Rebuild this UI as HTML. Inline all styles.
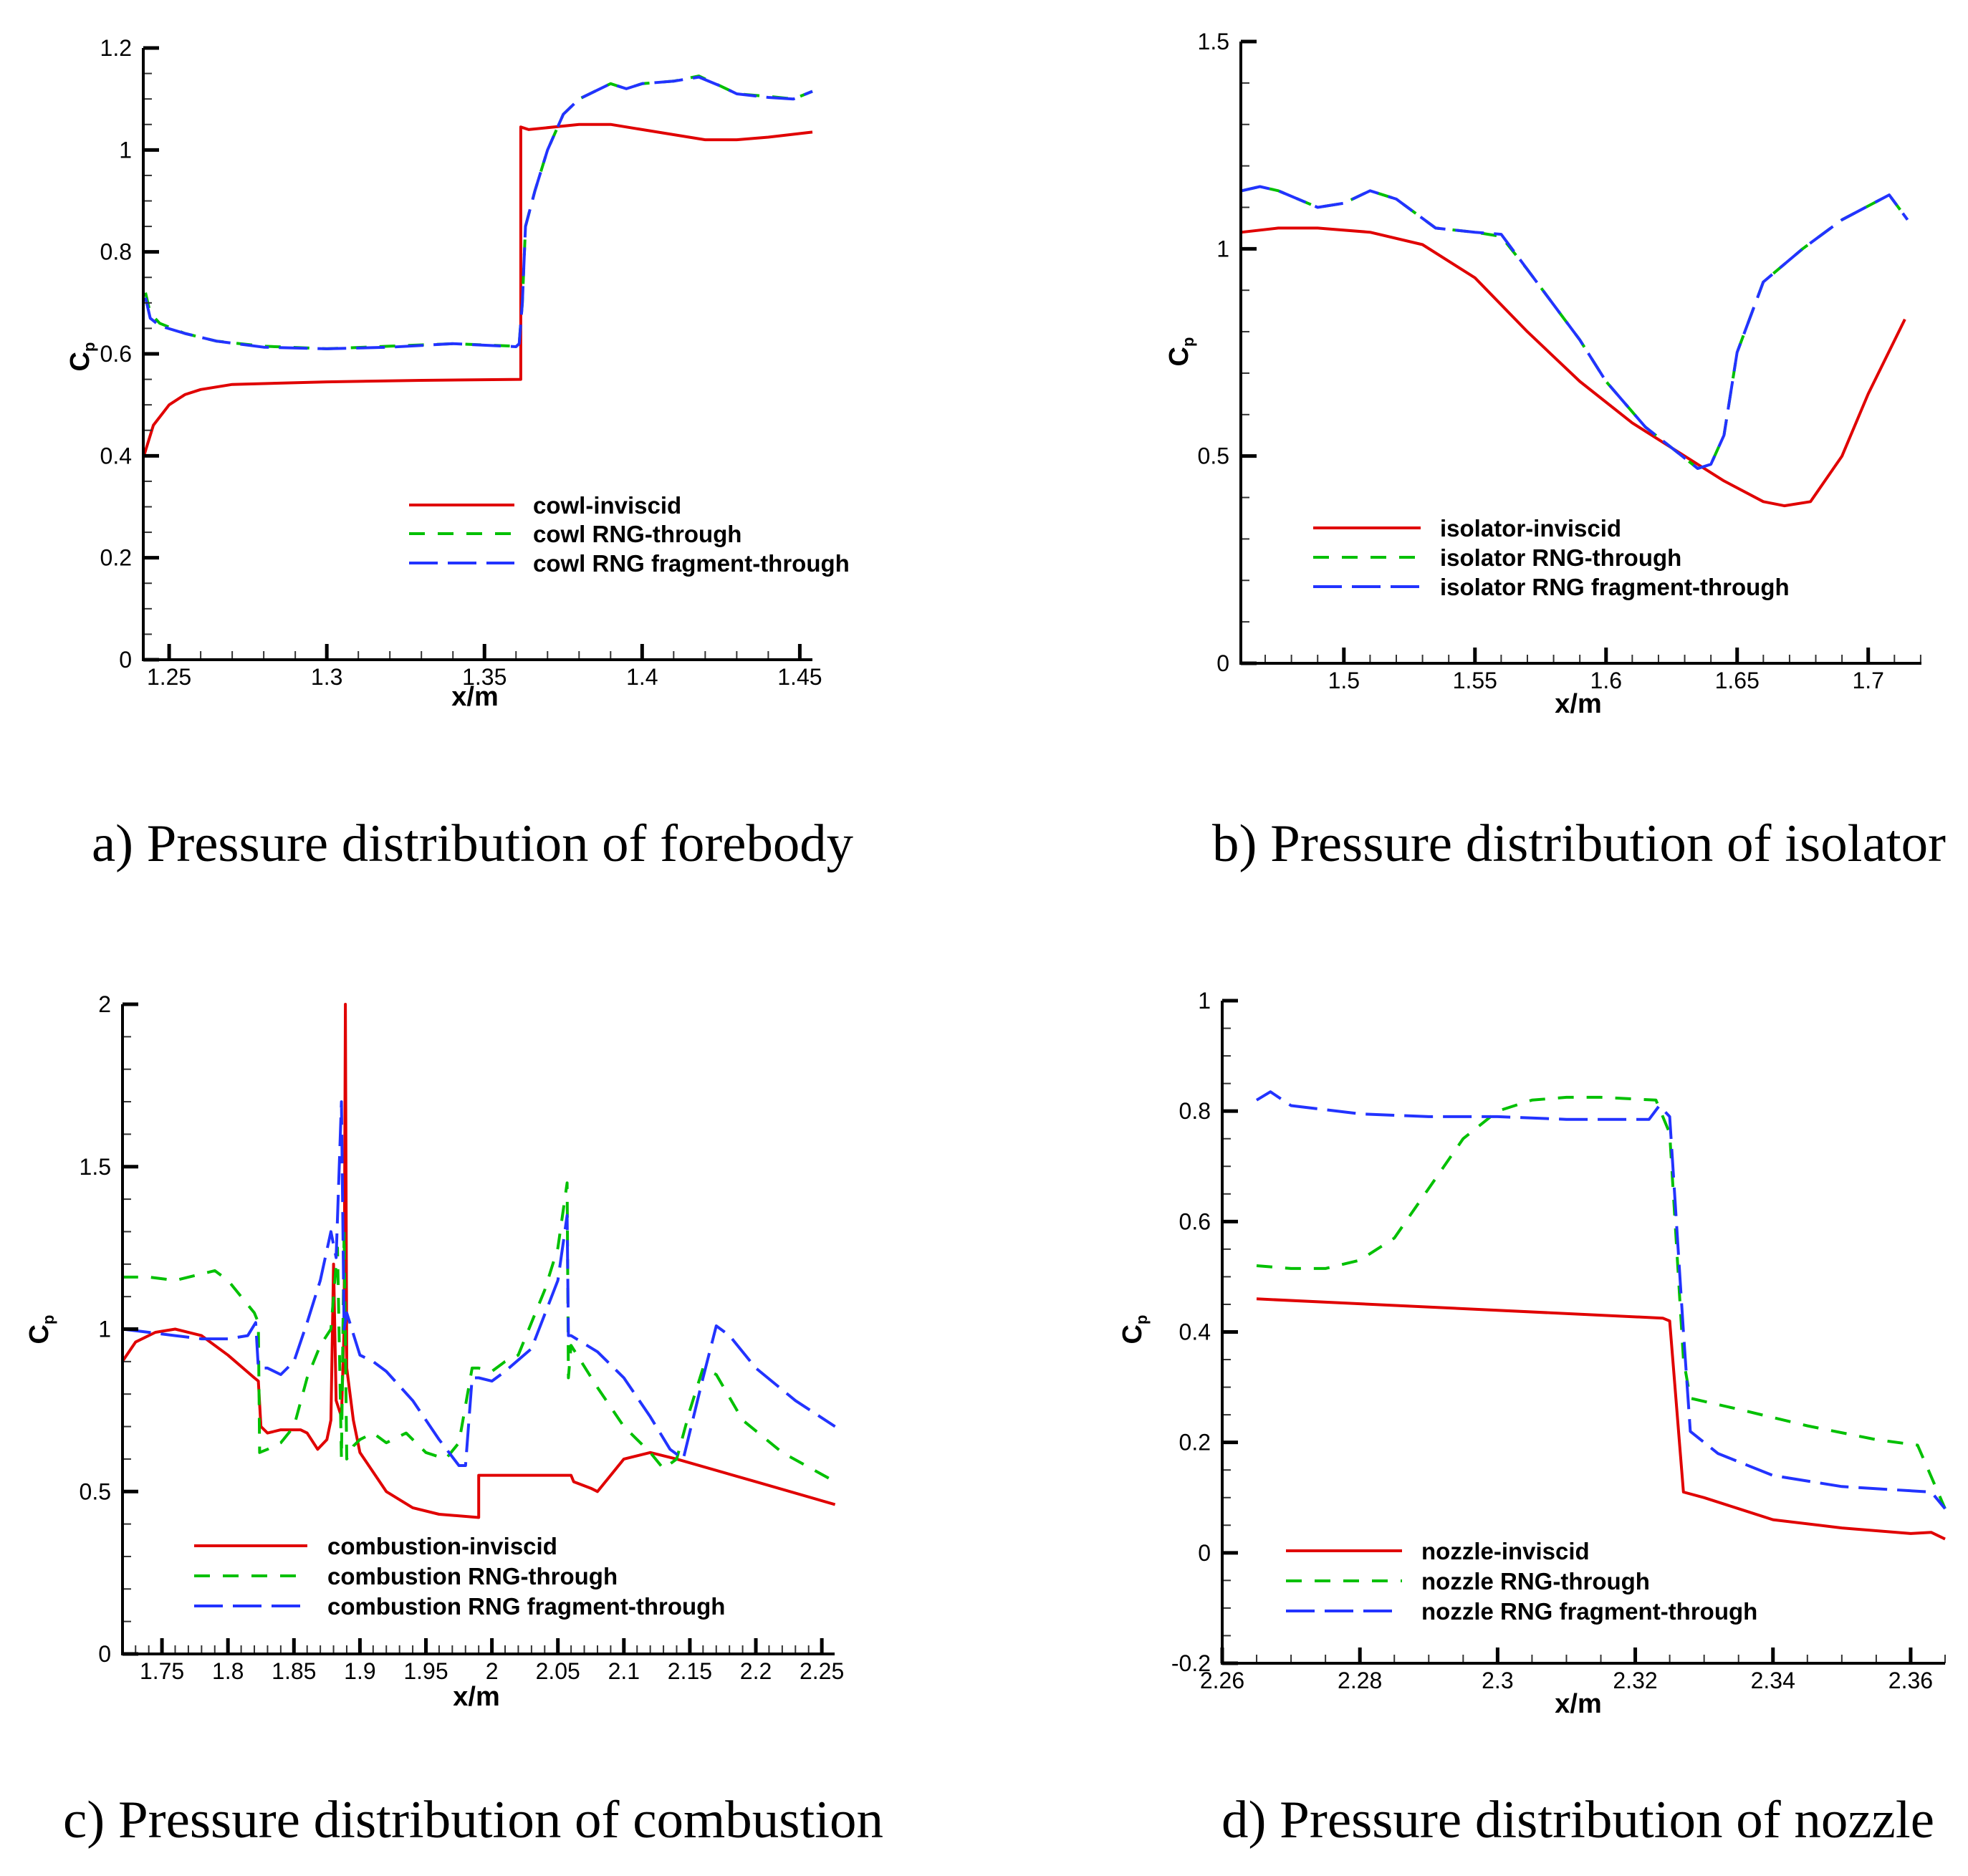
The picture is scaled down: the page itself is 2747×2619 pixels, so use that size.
<!DOCTYPE html>
<html><head><meta charset="utf-8"><style>
html,body{margin:0;padding:0;background:#fff;}
svg{display:block;}
</style></head><body>
<svg id="fig" xmlns="http://www.w3.org/2000/svg" width="2747" height="2619" viewBox="0 0 2747 2619" font-family="Liberation Sans, sans-serif">
<rect width="2747" height="2619" fill="#fff"/>
<text x="128" y="1202" font-family="Liberation Serif, serif" font-size="74" textLength="1063" lengthAdjust="spacingAndGlyphs">a) Pressure distribution of forebody</text>
<text x="1692" y="1202" font-family="Liberation Serif, serif" font-size="74" textLength="1024" lengthAdjust="spacingAndGlyphs">b) Pressure distribution of isolator</text>
<text x="88" y="2565" font-family="Liberation Serif, serif" font-size="74" textLength="1145" lengthAdjust="spacingAndGlyphs">c) Pressure distribution of combustion</text>
<text x="1705" y="2565" font-family="Liberation Serif, serif" font-size="74" textLength="995" lengthAdjust="spacingAndGlyphs">d) Pressure distribution of nozzle</text>
</svg>
<script>
// ---- Panel a (forebody / cowl) data ----
const aInvX=[1.242,1.245,1.25,1.255,1.26,1.27,1.3,1.33,1.3615,1.3615,1.364,1.38,1.39,1.40,1.41,1.42,1.43,1.44,1.454];
const aInvY=[0.40,0.46,0.50,0.52,0.53,0.54,0.545,0.548,0.55,1.045,1.04,1.05,1.05,1.04,1.03,1.02,1.02,1.025,1.035];
const aRngX=[1.2425,1.244,1.247,1.255,1.265,1.28,1.3,1.32,1.34,1.36,1.361,1.362,1.363,1.366,1.37,1.375,1.38,1.39,1.395,1.40,1.41,1.418,1.425,1.43,1.44,1.448,1.454];
const aRngY=[0.72,0.68,0.66,0.64,0.625,0.615,0.61,0.615,0.62,0.615,0.62,0.70,0.85,0.92,1.00,1.07,1.10,1.13,1.12,1.13,1.135,1.145,1.125,1.11,1.105,1.10,1.115];
const aFrgX=[1.2425,1.244,1.247,1.255,1.265,1.28,1.3,1.32,1.34,1.36,1.361,1.362,1.363,1.366,1.37,1.375,1.38,1.39,1.395,1.40,1.41,1.418,1.425,1.43,1.44,1.448,1.454];
const aFrgY=[0.71,0.67,0.655,0.64,0.625,0.613,0.61,0.613,0.62,0.614,0.62,0.70,0.85,0.92,1.00,1.07,1.10,1.13,1.12,1.13,1.135,1.143,1.125,1.11,1.103,1.10,1.115];
// ---- Panel b (isolator) data ----
const bInvX=[1.461,1.475,1.49,1.51,1.53,1.55,1.57,1.59,1.61,1.63,1.645,1.66,1.668,1.678,1.69,1.70,1.714];
const bInvY=[1.04,1.05,1.05,1.04,1.01,0.93,0.80,0.68,0.58,0.50,0.44,0.39,0.38,0.39,0.50,0.65,0.83];
const bRngX=[1.461,1.468,1.475,1.49,1.50,1.51,1.52,1.535,1.55,1.56,1.57,1.59,1.60,1.615,1.625,1.635,1.64,1.645,1.65,1.66,1.675,1.69,1.708,1.715];
const bRngY=[1.14,1.15,1.14,1.10,1.11,1.14,1.12,1.05,1.04,1.03,0.95,0.78,0.68,0.57,0.52,0.47,0.48,0.55,0.75,0.92,1.00,1.07,1.13,1.07];
const bFrgX=bRngX.slice();
const bFrgY=[1.14,1.15,1.14,1.10,1.11,1.14,1.12,1.05,1.04,1.035,0.95,0.78,0.68,0.57,0.52,0.47,0.48,0.55,0.75,0.92,1.00,1.07,1.13,1.07];
// ---- Panel c (combustion) data ----
const cInvX=[1.72,1.73,1.745,1.76,1.78,1.80,1.82,1.823,1.825,1.83,1.84,1.855,1.86,1.868,1.875,1.878,1.88,1.882,1.886,1.888,1.889,1.89,1.895,1.90,1.92,1.94,1.96,1.99,1.99,2.05,2.06,2.062,2.075,2.08,2.09,2.10,2.12,2.14,2.20,2.26];
const cInvY=[0.90,0.96,0.99,1.00,0.98,0.92,0.85,0.84,0.70,0.68,0.69,0.69,0.68,0.63,0.66,0.72,1.20,0.78,0.73,1.00,2.00,0.88,0.72,0.62,0.50,0.45,0.43,0.42,0.55,0.55,0.55,0.53,0.51,0.50,0.55,0.60,0.62,0.60,0.53,0.46];
const cRngX=[1.72,1.74,1.76,1.79,1.80,1.82,1.823,1.824,1.83,1.84,1.85,1.86,1.87,1.878,1.883,1.886,1.888,1.89,1.895,1.90,1.91,1.92,1.935,1.95,1.965,1.975,1.985,1.99,2.00,2.01,2.02,2.04,2.05,2.057,2.058,2.06,2.08,2.10,2.12,2.13,2.14,2.15,2.16,2.17,2.19,2.22,2.26];
const cRngY=[1.16,1.16,1.15,1.18,1.15,1.05,1.02,0.62,0.63,0.65,0.70,0.85,0.95,1.00,1.25,0.60,1.30,0.60,0.64,0.66,0.68,0.65,0.68,0.62,0.60,0.65,0.88,0.88,0.87,0.90,0.92,1.12,1.25,1.45,0.85,0.95,0.82,0.70,0.62,0.57,0.60,0.75,0.88,0.86,0.72,0.62,0.53];
const cFrgX=[1.72,1.74,1.76,1.78,1.80,1.815,1.821,1.823,1.83,1.84,1.85,1.86,1.87,1.878,1.882,1.886,1.888,1.89,1.90,1.91,1.92,1.94,1.96,1.975,1.98,1.985,1.99,2.00,2.01,2.03,2.05,2.057,2.058,2.06,2.08,2.10,2.12,2.135,2.145,2.16,2.17,2.18,2.20,2.23,2.26];
const cFrgY=[1.00,0.99,0.98,0.97,0.97,0.98,1.02,0.88,0.88,0.86,0.90,1.02,1.15,1.30,1.22,1.70,1.00,1.05,0.92,0.90,0.87,0.78,0.66,0.58,0.58,0.85,0.85,0.84,0.87,0.94,1.15,1.35,0.98,0.98,0.93,0.85,0.73,0.63,0.60,0.85,1.01,0.98,0.88,0.78,0.70];
// ---- Panel d (nozzle) data ----
const dInvX=[2.265,2.324,2.325,2.327,2.33,2.335,2.34,2.35,2.36,2.363,2.365];
const dInvY=[0.46,0.425,0.42,0.11,0.10,0.08,0.06,0.045,0.035,0.037,0.025];
const dRngX=[2.265,2.27,2.275,2.28,2.285,2.29,2.295,2.30,2.305,2.31,2.315,2.323,2.325,2.327,2.328,2.335,2.345,2.355,2.361,2.365];
const dRngY=[0.52,0.515,0.515,0.53,0.57,0.66,0.75,0.80,0.82,0.825,0.825,0.82,0.76,0.35,0.28,0.26,0.23,0.205,0.195,0.08];
const dFrgX=[2.265,2.267,2.27,2.28,2.29,2.30,2.31,2.322,2.3235,2.325,2.327,2.328,2.332,2.34,2.35,2.363,2.365];
const dFrgY=[0.82,0.835,0.81,0.795,0.79,0.79,0.785,0.785,0.81,0.79,0.40,0.22,0.18,0.14,0.12,0.11,0.08];

const NS='http://www.w3.org/2000/svg';
const svg=document.getElementById('fig');
function mk(tag,attrs,parent){const e=document.createElementNS(NS,tag);for(const k in attrs)e.setAttribute(k,attrs[k]);(parent||svg).appendChild(e);return e;}

const panels=[
 {id:'a',px0:200,px1:1134,py0:921,py1:67,x0:1.2418,x1:1.454,y0:0,y1:1.2,
  xt:[1.25,1.3,1.35,1.4,1.45],xl:['1.25','1.3','1.35','1.4','1.45'],xm:0.01,
  yt:[0,0.2,0.4,0.6,0.8,1,1.2],yl:['0','0.2','0.4','0.6','0.8','1','1.2'],ym:0.05,
  series:[[aInvX,aInvY],[aRngX,aRngY],[aFrgX,aFrgY]],names:['cowl-inviscid','cowl RNG-through','cowl RNG fragment-through'],
  lx0:571,lx1:718,ltx:744,ly:[705,745,786],xlab:[663,985],cp:[112,498]},
 {id:'b',px0:1732,px1:2682,py0:926,py1:58,x0:1.4607,x1:1.7203,y0:0,y1:1.5,
  xt:[1.5,1.55,1.6,1.65,1.7],xl:['1.5','1.55','1.6','1.65','1.7'],xm:0.01,
  yt:[0,0.5,1,1.5],yl:['0','0.5','1','1.5'],ym:0.1,
  series:[[bInvX,bInvY],[bRngX,bRngY],[bFrgX,bFrgY]],names:['isolator-inviscid','isolator RNG-through','isolator RNG fragment-through'],
  lx0:1833,lx1:1983,ltx:2010,ly:[737,778,819],xlab:[2203,995],cp:[1646,491]},
 {id:'c',px0:171,px1:1165,py0:2309,py1:1402,x0:1.7201,x1:2.2597,y0:0,y1:2,
  xt:[1.75,1.8,1.85,1.9,1.95,2,2.05,2.1,2.15,2.2,2.25],xl:['1.75','1.8','1.85','1.9','1.95','2','2.05','2.1','2.15','2.2','2.25'],xm:0.01,
  yt:[0,0.5,1,1.5,2],yl:['0','0.5','1','1.5','2'],ym:0.1,
  series:[[cInvX,cInvY],[cRngX,cRngY],[cFrgX,cFrgY]],names:['combustion-inviscid','combustion RNG-through','combustion RNG fragment-through'],
  lx0:271,lx1:429,ltx:457,ly:[2158,2200,2242],xlab:[665,2381],cp:[55,1856]},
 {id:'d',px0:1706,px1:2715,py0:2322,py1:1397,x0:2.26,x1:2.365,y0:-0.2,y1:1,
  xt:[2.26,2.28,2.3,2.32,2.34,2.36],xl:['2.26','2.28','2.3','2.32','2.34','2.36'],xm:0.005,
  yt:[-0.2,0,0.2,0.4,0.6,0.8,1],yl:['-0.2','0','0.2','0.4','0.6','0.8','1'],ym:0.05,
  series:[[dInvX,dInvY],[dRngX,dRngY],[dFrgX,dFrgY]],names:['nozzle-inviscid','nozzle RNG-through','nozzle RNG fragment-through'],
  lx0:1795,lx1:1957,ltx:1984,ly:[2165,2207,2249],xlab:[2203,2391],cp:[1581,1856]}
];
const colors=['#e00000','#00c000','#2233ff'];
const dashes=['none','22 18','40 14'];

panels.forEach(p=>{
 const g=mk('g',{});
 
 
 const sx=v=>p.px0+(v-p.x0)/(p.x1-p.x0)*(p.px1-p.px0);
 const sy=v=>p.py0+(v-p.y0)/(p.y1-p.y0)*(p.py1-p.py0);
 p.series.forEach((s,i)=>{
  const pts=s[0].map((x,k)=>sx(x).toFixed(1)+','+sy(s[1][k]).toFixed(1)).join(' ');
  const pl=mk('polyline',{points:pts,fill:'none',stroke:colors[i],'stroke-width':4,'stroke-dasharray':dashes[i],'stroke-linejoin':'round'},g);
  
  
 });
 const eps=1e-9;
 for(let v=Math.ceil(p.x0/p.xm-eps)*p.xm; v<=p.x1+eps; v+=p.xm){
  const X=sx(v); mk('line',{x1:X,x2:X,y1:p.py0,y2:p.py0-12,stroke:'#333','stroke-width':2},g);
 }
 for(let v=Math.ceil(p.y0/p.ym-eps)*p.ym; v<=p.y1+eps; v+=p.ym){
  const Y=sy(v); mk('line',{x1:p.px0,x2:p.px0+12,y1:Y,y2:Y,stroke:'#333','stroke-width':2},g);
 }
 p.xt.forEach((v,i)=>{
  const X=sx(v);
  mk('line',{x1:X,x2:X,y1:p.py0,y2:p.py0-22,stroke:'#000','stroke-width':5},g);
  const t=mk('text',{x:X,y:p.py0+35,'font-size':32,'text-anchor':'middle',fill:'#000'},g);
  t.textContent=p.xl[i];
  
  
 });
 p.yt.forEach((v,i)=>{
  const Y=sy(v);
  mk('line',{x1:p.px0,x2:p.px0+22,y1:Y,y2:Y,stroke:'#000','stroke-width':5},g);
  const t=mk('text',{x:p.px0-16,y:Y+11,'font-size':32,'text-anchor':'end',fill:'#000'},g);
  t.textContent=p.yl[i];
  
  
 });
 const ax=mk('path',{d:`M${p.px0},${p.py1} V${p.py0} H${p.px1}`,fill:'none',stroke:'#000','stroke-width':4},g);
 
 
 const xl=mk('text',{x:p.xlab[0],y:p.xlab[1],'font-size':38,'font-weight':'bold','text-anchor':'middle'},g);
 xl.textContent='x/m';
 
 
 const cp=mk('text',{x:0,y:0,'font-size':38,'font-weight':'bold','text-anchor':'middle',transform:`translate(${p.cp[0]+12},${p.cp[1]}) rotate(-90)`},g);
 
 
 const t1=mk('tspan',{},cp); t1.textContent='C';
 const t2=mk('tspan',{'font-size':22,dy:8},cp); t2.textContent='p';
 p.names.forEach((n,i)=>{
  const ln=mk('line',{x1:p.lx0,x2:p.lx1,y1:p.ly[i],y2:p.ly[i],stroke:colors[i],'stroke-width':4,'stroke-dasharray':dashes[i]},g);
  
  
  const t=mk('text',{x:p.ltx,y:p.ly[i]+12,'font-size':33,'font-weight':'bold'},g);
  t.textContent=n;
  
  
 });
});
</script>
</body></html>
